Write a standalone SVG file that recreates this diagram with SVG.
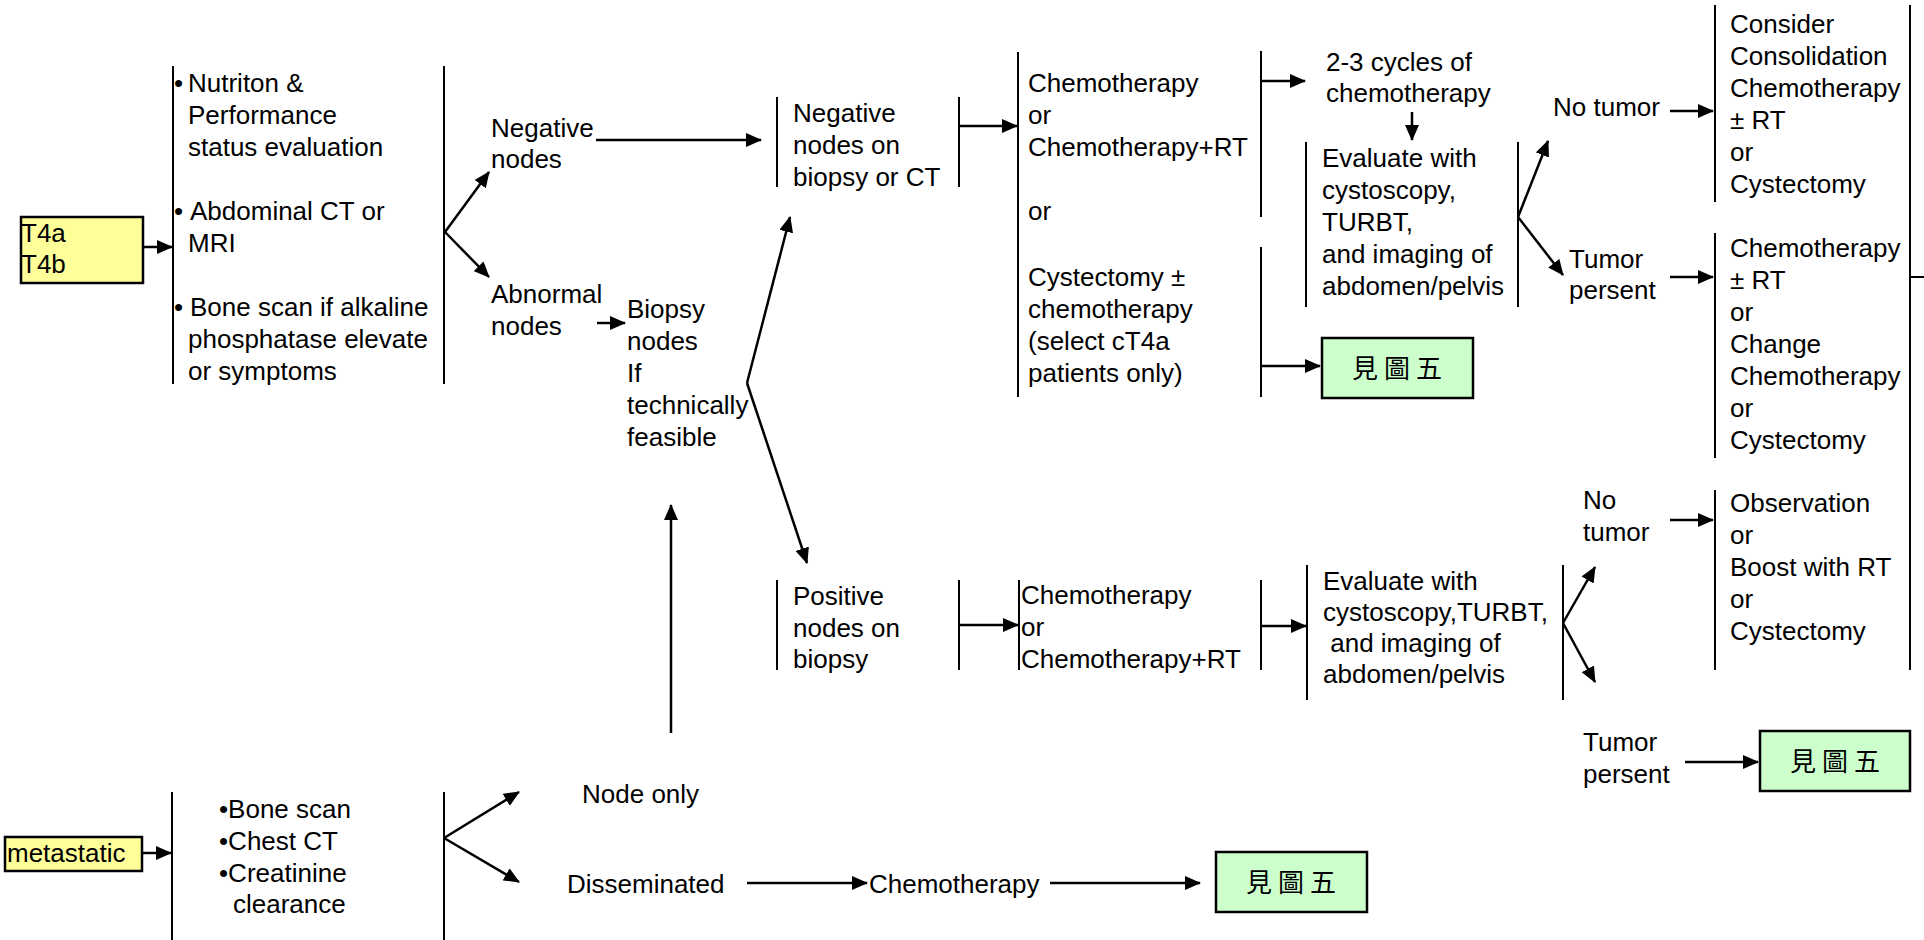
<svg xmlns="http://www.w3.org/2000/svg" width="1924" height="940" viewBox="0 0 1924 940">
<style>
.t{font-family:"Liberation Sans",Arial,sans-serif;font-size:26px;fill:#000}
.cjk{font-family:"Noto Sans CJK TC","Noto Sans CJK SC",sans-serif;font-size:26px;fill:#000;letter-spacing:6px}
.ln{stroke:#000;stroke-width:2;fill:none}
.ar{stroke:#000;stroke-width:2.5;fill:none;marker-end:url(#ah)}
.yb{fill:#FFFF99;stroke:#000;stroke-width:2.5}
.gb{fill:#CCFFCC;stroke:#000;stroke-width:2.5}
</style>
<defs>
<marker id="ah" markerUnits="userSpaceOnUse" markerWidth="16" markerHeight="14" refX="15" refY="7" orient="auto"><path d="M0,0 L16,7 L0,14 z" fill="#000"/></marker>
</defs>
<rect width="1924" height="940" fill="#fff"/>

<g id="n-t4">
<rect class="yb" x="21" y="217" width="122" height="66"/>
<text class="t" x="21" y="242">T4a</text>
<text class="t" x="21" y="273">T4b</text>
</g>

<g id="n-workup">
<line class="ln" x1="173" y1="66" x2="173" y2="384"/>
<line class="ln" x1="444" y1="66" x2="444" y2="384"/>
<text class="t" x="174" y="92">•</text>
<text class="t" x="188" y="92">Nutriton &amp;</text>
<text class="t" x="188" y="124">Performance</text>
<text class="t" x="188" y="156">status evaluation</text>
<text class="t" x="174" y="220">•</text>
<text class="t" x="190" y="220">Abdominal CT or</text>
<text class="t" x="188" y="252">MRI</text>
<text class="t" x="174" y="316">•</text>
<text class="t" x="190" y="316">Bone scan if alkaline</text>
<text class="t" x="188" y="348">phosphatase elevate</text>
<text class="t" x="188" y="380">or symptoms</text>
</g>

<g id="n-negative">
<text class="t" x="491" y="137">Negative</text>
<text class="t" x="491" y="168">nodes</text>
</g>

<g id="n-abnormal">
<text class="t" x="491" y="303">Abnormal</text>
<text class="t" x="491" y="335">nodes</text>
</g>

<g id="n-biopsy">
<text class="t" x="627" y="318">Biopsy</text>
<text class="t" x="627" y="350">nodes</text>
<text class="t" x="627" y="382">If</text>
<text class="t" x="627" y="414">technically</text>
<text class="t" x="627" y="446">feasible</text>
</g>

<g id="n-neg-biopsy">
<line class="ln" x1="777" y1="97" x2="777" y2="187"/>
<line class="ln" x1="959" y1="97" x2="959" y2="187"/>
<text class="t" x="793" y="122">Negative</text>
<text class="t" x="793" y="154">nodes on</text>
<text class="t" x="793" y="186">biopsy or CT</text>
</g>

<g id="n-chemo-options">
<line class="ln" x1="1018" y1="52" x2="1018" y2="397"/>
<line class="ln" x1="1261" y1="51" x2="1261" y2="217"/>
<line class="ln" x1="1261" y1="247" x2="1261" y2="397"/>
<text class="t" x="1028" y="92">Chemotherapy</text>
<text class="t" x="1028" y="124">or</text>
<text class="t" x="1028" y="156">Chemotherapy+RT</text>
<text class="t" x="1028" y="220">or</text>
<text class="t" x="1028" y="286">Cystectomy ±</text>
<text class="t" x="1028" y="318">chemotherapy</text>
<text class="t" x="1028" y="350">(select cT4a</text>
<text class="t" x="1028" y="382">patients only)</text>
</g>

<g id="n-cycles">
<text class="t" x="1326" y="71">2-3 cycles of</text>
<text class="t" x="1326" y="102">chemotherapy</text>
</g>

<g id="n-eval1">
<line class="ln" x1="1306" y1="142" x2="1306" y2="307"/>
<line class="ln" x1="1518" y1="142" x2="1518" y2="307"/>
<text class="t" x="1322" y="167">Evaluate with</text>
<text class="t" x="1322" y="199">cystoscopy,</text>
<text class="t" x="1322" y="231">TURBT,</text>
<text class="t" x="1322" y="263">and imaging of</text>
<text class="t" x="1322" y="295">abdomen/pelvis</text>
</g>

<g id="n-see5-a">
<rect class="gb" x="1322" y="338" width="151" height="60"/>
<text class="cjk" x="1400" y="378" text-anchor="middle">見圖五</text>
</g>

<g id="n-notumor1">
<text class="t" x="1553" y="116">No tumor</text>
</g>

<g id="n-consider">
<line class="ln" x1="1715" y1="5" x2="1715" y2="202"/>
<text class="t" x="1730" y="33">Consider</text>
<text class="t" x="1730" y="65">Consolidation</text>
<text class="t" x="1730" y="97">Chemotherapy</text>
<text class="t" x="1730" y="129">± RT</text>
<text class="t" x="1730" y="161">or</text>
<text class="t" x="1730" y="193">Cystectomy</text>
</g>

<g id="n-tumor1">
<text class="t" x="1569" y="268">Tumor</text>
<text class="t" x="1569" y="299">persent</text>
</g>

<g id="n-chemo-change">
<line class="ln" x1="1715" y1="233" x2="1715" y2="458"/>
<text class="t" x="1730" y="257">Chemotherapy</text>
<text class="t" x="1730" y="289">± RT</text>
<text class="t" x="1730" y="321">or</text>
<text class="t" x="1730" y="353">Change</text>
<text class="t" x="1730" y="385">Chemotherapy</text>
<text class="t" x="1730" y="417">or</text>
<text class="t" x="1730" y="449">Cystectomy</text>
</g>

<g id="n-pos-biopsy">
<line class="ln" x1="777" y1="580" x2="777" y2="670"/>
<line class="ln" x1="959" y1="580" x2="959" y2="670"/>
<text class="t" x="793" y="605">Positive</text>
<text class="t" x="793" y="637">nodes on</text>
<text class="t" x="793" y="668">biopsy</text>
</g>

<g id="n-chemo2">
<line class="ln" x1="1019" y1="580" x2="1019" y2="670"/>
<line class="ln" x1="1261" y1="580" x2="1261" y2="670"/>
<text class="t" x="1021" y="604">Chemotherapy</text>
<text class="t" x="1021" y="636">or</text>
<text class="t" x="1021" y="668">Chemotherapy+RT</text>
</g>

<g id="n-eval2">
<line class="ln" x1="1307" y1="565" x2="1307" y2="700"/>
<line class="ln" x1="1563" y1="565" x2="1563" y2="700"/>
<text class="t" x="1323" y="590">Evaluate with</text>
<text class="t" x="1323" y="621">cystoscopy,TURBT,</text>
<text class="t" x="1323" y="652" xml:space="preserve"> and imaging of</text>
<text class="t" x="1323" y="683">abdomen/pelvis</text>
</g>

<g id="n-notumor2">
<text class="t" x="1583" y="509">No</text>
<text class="t" x="1583" y="541">tumor</text>
</g>

<g id="n-observation">
<line class="ln" x1="1715" y1="490" x2="1715" y2="670"/>
<text class="t" x="1730" y="512">Observation</text>
<text class="t" x="1730" y="544">or</text>
<text class="t" x="1730" y="576">Boost with RT</text>
<text class="t" x="1730" y="608">or</text>
<text class="t" x="1730" y="640">Cystectomy</text>
</g>

<g id="n-tumor2">
<text class="t" x="1583" y="751">Tumor</text>
<text class="t" x="1583" y="783">persent</text>
</g>

<g id="n-see5-b">
<rect class="gb" x="1760" y="731" width="150" height="60"/>
<text class="cjk" x="1838" y="771" text-anchor="middle">見圖五</text>
</g>

<g id="n-meta">
<rect class="yb" x="5" y="837" width="137" height="34"/>
<text class="t" x="7" y="862">metastatic</text>
</g>

<g id="n-meta-workup">
<line class="ln" x1="172" y1="792" x2="172" y2="940"/>
<line class="ln" x1="444" y1="792" x2="444" y2="940"/>
<text class="t" x="219" y="818">•Bone scan</text>
<text class="t" x="219" y="850">•Chest CT</text>
<text class="t" x="219" y="882">•Creatinine</text>
<text class="t" x="233" y="913">clearance</text>
</g>

<g id="n-nodeonly">
<text class="t" x="582" y="803">Node only</text>
</g>

<g id="n-dissem">
<text class="t" x="567" y="893">Disseminated</text>
</g>

<g id="n-chemo3">
<text class="t" x="869" y="893">Chemotherapy</text>
</g>

<g id="n-see5-c">
<rect class="gb" x="1216" y="852" width="151" height="60"/>
<text class="cjk" x="1294" y="892" text-anchor="middle">見圖五</text>
</g>

<g id="connectors">
<line class="ar" x1="143" y1="247" x2="172" y2="247"/>
<line class="ar" x1="445" y1="232" x2="489" y2="172"/>
<line class="ar" x1="445" y1="232" x2="489" y2="277"/>
<line class="ar" x1="596" y1="140" x2="761" y2="140"/>
<line class="ar" x1="597" y1="323" x2="625" y2="323"/>
<line class="ar" x1="747" y1="383" x2="790" y2="217"/>
<line class="ar" x1="747" y1="383" x2="807" y2="563"/>
<line class="ar" x1="671" y1="733" x2="671" y2="505"/>
<line class="ar" x1="959" y1="126" x2="1017" y2="126"/>
<line class="ar" x1="1261" y1="81" x2="1305" y2="81"/>
<line class="ar" x1="1261" y1="366" x2="1320" y2="366"/>
<line class="ar" x1="1412" y1="112" x2="1412" y2="140"/>
<line class="ar" x1="1518" y1="217" x2="1548" y2="141"/>
<line class="ar" x1="1518" y1="217" x2="1563" y2="275"/>
<line class="ar" x1="1670" y1="111" x2="1713" y2="111"/>
<line class="ar" x1="1670" y1="277" x2="1713" y2="277"/>
<line class="ln" x1="1910" y1="5" x2="1910" y2="670"/>
<line class="ln" x1="1910" y1="277" x2="1924" y2="277"/>
<line class="ar" x1="959" y1="625" x2="1018" y2="625"/>
<line class="ar" x1="1261" y1="626" x2="1306" y2="626"/>
<line class="ar" x1="1563" y1="623" x2="1595" y2="567"/>
<line class="ar" x1="1563" y1="623" x2="1595" y2="682"/>
<line class="ar" x1="1670" y1="520" x2="1713" y2="520"/>
<line class="ar" x1="1685" y1="762" x2="1758" y2="762"/>
<line class="ar" x1="142" y1="853" x2="171" y2="853"/>
<line class="ar" x1="444" y1="838" x2="519" y2="792"/>
<line class="ar" x1="444" y1="838" x2="519" y2="882"/>
<line class="ar" x1="747" y1="883" x2="867" y2="883"/>
<line class="ar" x1="1050" y1="883" x2="1200" y2="883"/>
</g>
</svg>
